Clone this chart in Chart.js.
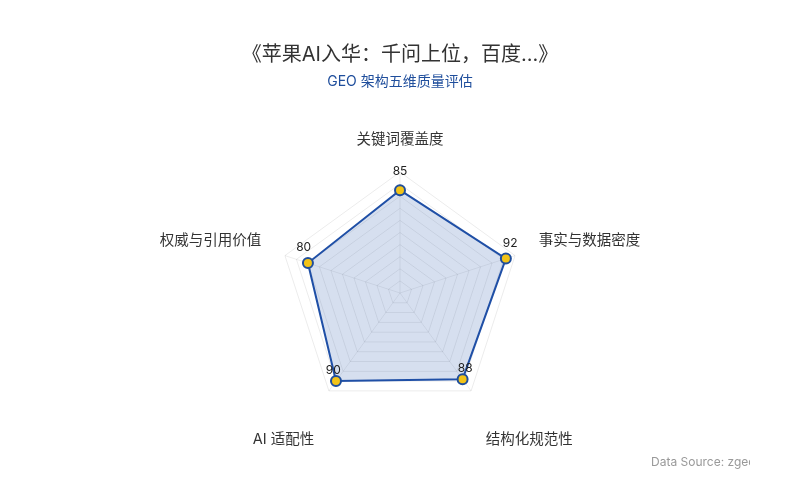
<!DOCTYPE html>
<html>
<head>
<meta charset="utf-8">
<script src="https://cdn.jsdelivr.net/npm/chart.js@4.4.1/dist/chart.umd.min.js"></script>
<style>
  html, body { margin: 0; padding: 0; background: #fff; }
  #wrap { position: relative; width: 800px; height: 500px; }
  #source {
    position: absolute; left: 651px; top: 454px; width: 99px;
    overflow: hidden; white-space: nowrap;
    font: 12px Inter, "Noto Sans CJK SC", sans-serif; color: #999;
  }
</style>
</head>
<body>
<div id="wrap">
  <canvas id="myChart" width="800" height="500"></canvas>
  <div id="source">Data Source: zgeo.ai</div>
</div>
<script>
var dimensions = ['关键词覆盖度', '事实与数据密度', '结构化规范性', 'AI 适配性', '权威与引用价值'];
var scores = [85, 92, 88, 90, 80];
var titleText = '《苹果AI入华：千问上位，百度...》';
var subtitleText = 'GEO 架构五维质量评估';

var fontFamily = 'Inter, "Noto Sans CJK SC", sans-serif';

// axis names, drawn a bit further out than chart.js would put them
var axisNames = {
    id: 'axisNames',
    afterDraw: function(chart) {
        var scale = chart.scales.r;
        var ctx = chart.ctx;
        ctx.save();
        ctx.font = '14.5px ' + fontFamily;
        ctx.fillStyle = '#333';
        dimensions.forEach(function(name, i) {
            var p = scale.getPointPosition(i, scale.drawingArea + 25);
            var y = p.y;
            if (Math.abs(p.x - scale.xCenter) < 1) ctx.textAlign = 'center';
            else if (p.x > scale.xCenter) ctx.textAlign = 'left';
            else ctx.textAlign = 'right';
            if (p.y < scale.yCenter) {
                ctx.textBaseline = 'bottom';
            } else {
                ctx.textBaseline = 'top';
                y += 21;
            }
            ctx.fillText(name, p.x, y);
        });
        ctx.restore();
    }
};

// draws the score above each point
var valueLabels = {
    id: 'valueLabels',
    afterDatasetsDraw: function(chart) {
        var ctx = chart.ctx;
        var scale = chart.scales.r;
        var meta = chart.getDatasetMeta(0);
        ctx.save();
        ctx.font = '12px ' + fontFamily;
        ctx.fillStyle = '#222';
        ctx.textAlign = 'center';
        ctx.textBaseline = 'middle';
        meta.data.forEach(function(pt, i) {
            var a = scale.getIndexAngle(i) - Math.PI / 2;
            var x = pt.x + 4.5 * Math.cos(a);
            var y = pt.y + 4.5 * Math.sin(a) - 14;
            ctx.fillText(scores[i], x, y);
        });
        ctx.restore();
    }
};

var chartdata = {
    labels: dimensions,
    datasets: [
        {
            label: 'GEO',
            data: scores,
            backgroundColor: 'rgba(35, 85, 170, 0.19)',
            borderColor: '#1f4fa6',
            borderWidth: 2,
            pointBackgroundColor: '#f2c318',
            pointBorderColor: '#1f4e9c',
            pointBorderWidth: 2,
            pointRadius: 5
        }
    ]
};

var graphTarget = document.getElementById('myChart');

var radar = new Chart(graphTarget, {
    type: 'radar',
    data: chartdata,
    options: {
        responsive: false,
        animation: false,
        layout: { padding: { top: 20, bottom: 85, left: 0, right: 0 } },
        plugins: {
            legend: { display: false },
            tooltip: { enabled: false },
            title: {
                display: true,
                text: titleText,
                color: '#333',
                font: { family: fontFamily, size: 20, weight: 'normal' },
                padding: { top: 23, bottom: 6 }
            },
            subtitle: {
                display: true,
                text: subtitleText,
                color: '#1f4e9c',
                font: { family: fontFamily, size: 14, weight: 'normal' },
                padding: { bottom: 83 }
            }
        },
        scales: {
            r: {
                min: 0,
                max: 100,
                ticks: { display: false, stepSize: 10 },
                grid: { color: 'rgba(0,0,0,0.08)' },
                angleLines: { color: 'rgba(0,0,0,0.07)' },
                pointLabels: { display: false }
            }
        }
    },
    plugins: [valueLabels, axisNames]
});
</script>
</body>
</html>
